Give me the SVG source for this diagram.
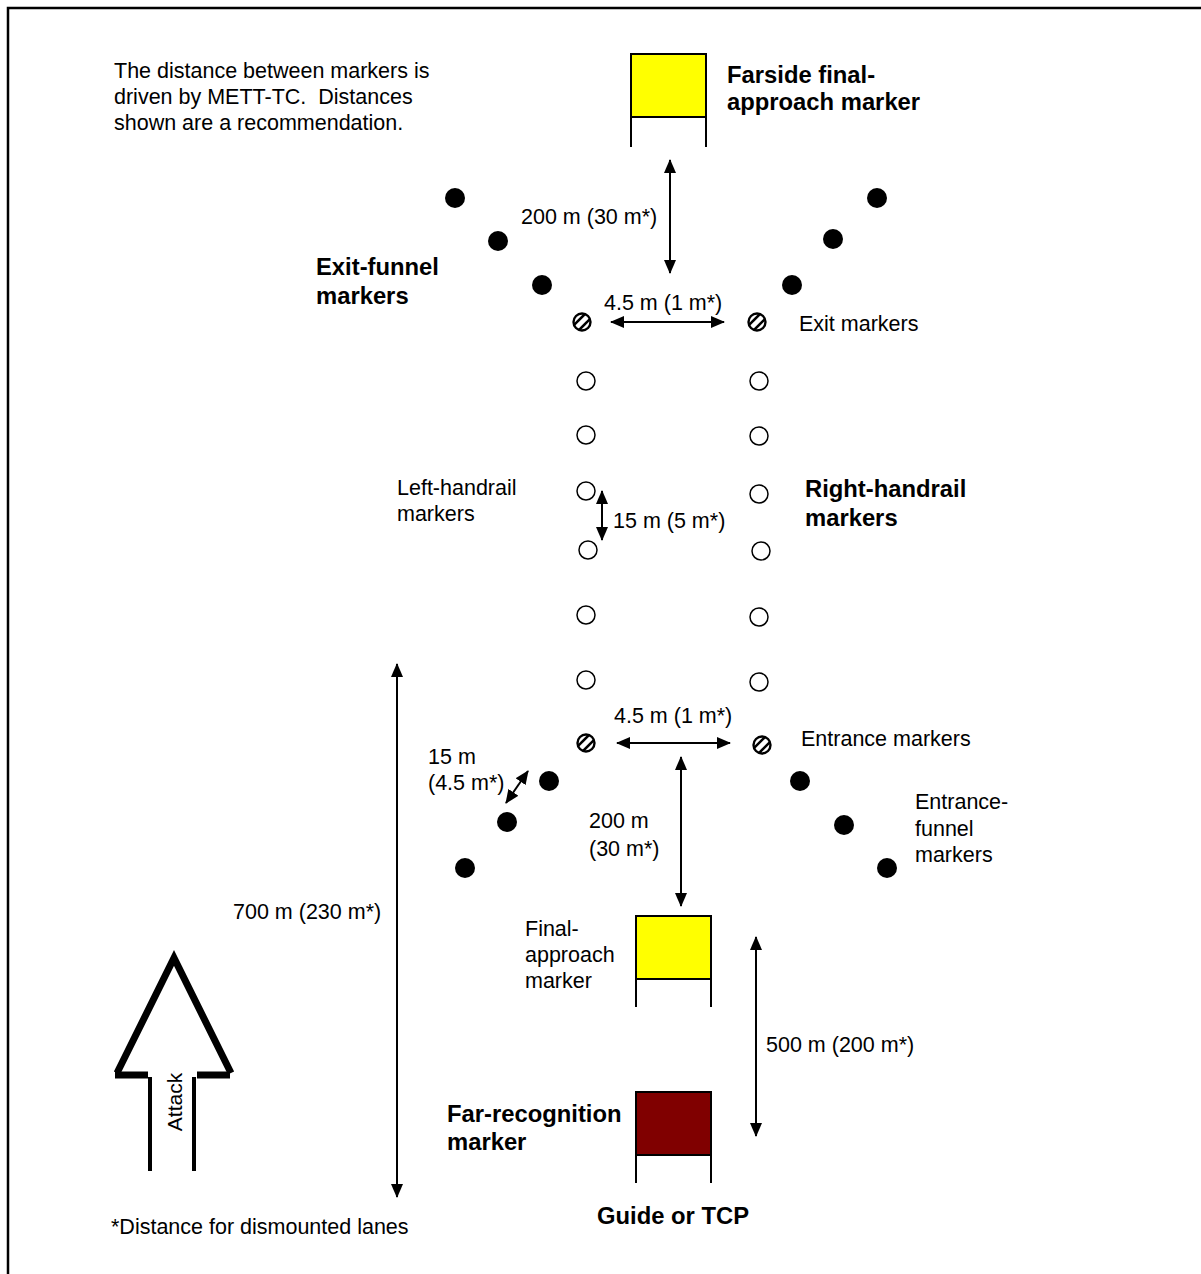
<svg xmlns="http://www.w3.org/2000/svg" width="1201" height="1274" viewBox="0 0 1201 1274">
<defs>
<style>
text{font-family:"Liberation Sans",Arial,sans-serif;font-size:21.5px;fill:#000;white-space:pre}
.b{font-weight:bold;font-size:23.8px}
.dot{fill:#000}
.hol{fill:#fff;stroke:#000;stroke-width:1.5}
.hat{fill:#fff;stroke:#000;stroke-width:2.4}
.sign{stroke:#000;stroke-width:2}
.ln{stroke:#000;stroke-width:2;fill:none}
</style>
<marker id="ah" markerWidth="14" markerHeight="12" refX="13" refY="6" orient="auto-start-reverse" markerUnits="userSpaceOnUse">
<path d="M0,0 L14,6 L0,12 z" fill="#000"/>
</marker>
<clipPath id="hc"><circle r="8.5"/></clipPath>
<g id="hatch">
<circle r="8.5" class="hat"/>
<g clip-path="url(#hc)" stroke="#000" stroke-width="2.6">
<line x1="-10" y1="5" x2="5" y2="-10"/>
<line x1="-5" y1="10" x2="10" y2="-5"/>
</g>
</g>
</defs>
<rect width="1201" height="1274" fill="#fff"/>
<path d="M8,1274 L8,8 L1201,8" fill="none" stroke="#000" stroke-width="2.5"/>

<g id="note">
<text x="114" y="78">The distance between markers is</text>
<text x="114" y="104">driven by METT-TC.  Distances</text>
<text x="114" y="130">shown are a recommendation.</text>
</g>

<g id="farside-marker">
<rect x="631" y="54" width="75" height="63" fill="#ffff00" class="sign"/>
<line x1="631" y1="117" x2="631" y2="147" class="sign"/>
<line x1="706" y1="117" x2="706" y2="147" class="sign"/>
<text class="b" x="727" y="83">Farside final-</text>
<text class="b" x="727" y="110">approach marker</text>
</g>

<g id="exit-funnel">
<circle cx="455" cy="198" r="10" class="dot"/>
<circle cx="498" cy="241" r="10" class="dot"/>
<circle cx="542" cy="285" r="10" class="dot"/>
<circle cx="877" cy="198" r="10" class="dot"/>
<circle cx="833" cy="239" r="10" class="dot"/>
<circle cx="792" cy="285" r="10" class="dot"/>
<text class="b" x="316" y="275">Exit-funnel</text>
<text class="b" x="316" y="304">markers</text>
</g>

<g id="exit-markers">
<use href="#hatch" x="582" y="322"/>
<use href="#hatch" x="757" y="322"/>
<text x="799" y="331">Exit markers</text>
</g>

<g id="left-handrail">
<circle cx="586" cy="381" r="9" class="hol"/>
<circle cx="586" cy="435" r="9" class="hol"/>
<circle cx="586" cy="491" r="9" class="hol"/>
<circle cx="588" cy="550" r="9" class="hol"/>
<circle cx="586" cy="615" r="9" class="hol"/>
<circle cx="586" cy="680" r="9" class="hol"/>
<text x="397" y="495">Left-handrail</text>
<text x="397" y="521">markers</text>
</g>

<g id="right-handrail">
<circle cx="759" cy="381" r="9" class="hol"/>
<circle cx="759" cy="436" r="9" class="hol"/>
<circle cx="759" cy="494" r="9" class="hol"/>
<circle cx="761" cy="551" r="9" class="hol"/>
<circle cx="759" cy="617" r="9" class="hol"/>
<circle cx="759" cy="682" r="9" class="hol"/>
<text class="b" x="805" y="497">Right-handrail</text>
<text class="b" x="805" y="526">markers</text>
</g>

<g id="entrance-markers">
<use href="#hatch" x="586" y="743"/>
<use href="#hatch" x="762" y="745"/>
<text x="801" y="746">Entrance markers</text>
</g>

<g id="entrance-funnel">
<circle cx="549" cy="781" r="10" class="dot"/>
<circle cx="507" cy="822" r="10" class="dot"/>
<circle cx="465" cy="868" r="10" class="dot"/>
<circle cx="800" cy="781" r="10" class="dot"/>
<circle cx="844" cy="825" r="10" class="dot"/>
<circle cx="887" cy="868" r="10" class="dot"/>
<text x="915" y="809">Entrance-</text>
<text x="915" y="836">funnel</text>
<text x="915" y="862">markers</text>
</g>

<g id="final-approach-marker">
<rect x="636" y="916" width="75" height="63" fill="#ffff00" class="sign"/>
<line x1="636" y1="979" x2="636" y2="1007" class="sign"/>
<line x1="711" y1="979" x2="711" y2="1007" class="sign"/>
<text x="525" y="936">Final-</text>
<text x="525" y="962">approach</text>
<text x="525" y="988">marker</text>
</g>

<g id="far-recognition-marker">
<rect x="636" y="1092" width="75" height="63" fill="#800000" class="sign"/>
<line x1="636" y1="1155" x2="636" y2="1183" class="sign"/>
<line x1="711" y1="1155" x2="711" y2="1183" class="sign"/>
<text class="b" x="447" y="1122">Far-recognition</text>
<text class="b" x="447" y="1150">marker</text>
<text class="b" x="597" y="1224">Guide or TCP</text>
</g>

<g id="attack-arrow">
<polyline points="117,1073 174,958 231,1073" fill="none" stroke="#000" stroke-width="7" stroke-linejoin="miter"/>
<line x1="115" y1="1075" x2="148" y2="1075" stroke="#000" stroke-width="7"/>
<line x1="197" y1="1075" x2="230" y2="1075" stroke="#000" stroke-width="7"/>
<line x1="150" y1="1077" x2="150" y2="1171" stroke="#000" stroke-width="4"/>
<line x1="194" y1="1077" x2="194" y2="1171" stroke="#000" stroke-width="4"/>
<text transform="translate(182,1102) rotate(-90)" text-anchor="middle" style="font-size:21px">Attack</text>
</g>

<g id="footnote">
<text x="111" y="1234">*Distance for dismounted lanes</text>
</g>

<g id="connectors">
<line x1="670" y1="160" x2="670" y2="273" class="ln" marker-start="url(#ah)" marker-end="url(#ah)"/>
<text x="521" y="224">200 m (30 m*)</text>
<line x1="611" y1="322" x2="724" y2="322" class="ln" marker-start="url(#ah)" marker-end="url(#ah)"/>
<text x="604" y="310">4.5 m (1 m*)</text>
<line x1="602" y1="491" x2="602" y2="540" class="ln" marker-start="url(#ah)" marker-end="url(#ah)"/>
<text x="613" y="528">15 m (5 m*)</text>
<line x1="617" y1="743" x2="730" y2="743" class="ln" marker-start="url(#ah)" marker-end="url(#ah)"/>
<text x="614" y="723">4.5 m (1 m*)</text>
<line x1="528" y1="771" x2="506" y2="803" class="ln" marker-start="url(#ah)" marker-end="url(#ah)"/>
<text x="428" y="764">15 m</text>
<text x="428" y="790">(4.5 m*)</text>
<line x1="681" y1="757" x2="681" y2="906" class="ln" marker-start="url(#ah)" marker-end="url(#ah)"/>
<text x="589" y="828">200 m</text>
<text x="589" y="856">(30 m*)</text>
<line x1="397" y1="664" x2="397" y2="1197" class="ln" marker-start="url(#ah)" marker-end="url(#ah)"/>
<text x="233" y="919">700 m (230 m*)</text>
<line x1="756" y1="937" x2="756" y2="1136" class="ln" marker-start="url(#ah)" marker-end="url(#ah)"/>
<text x="766" y="1052">500 m (200 m*)</text>
</g>
</svg>
